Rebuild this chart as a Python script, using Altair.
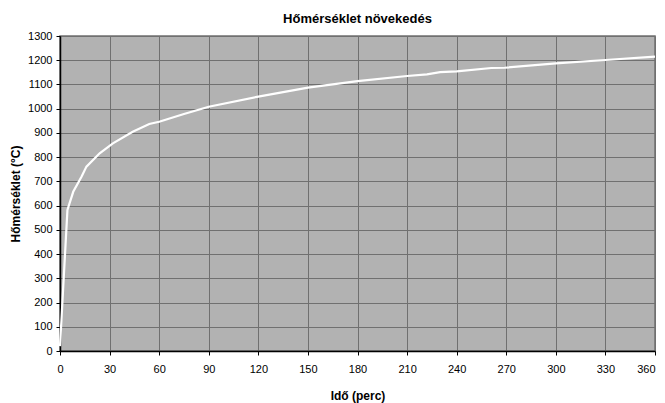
import altair as alt
import pandas as pd

# Values
time_min = [0, 4.5, 8, 13, 16, 24, 32, 44, 54, 60, 75, 90, 120, 150, 180,
            210, 222, 230, 240, 261, 269, 300, 330, 360]
temp_c = [20, 582, 657, 719, 761, 816, 857, 905, 937, 946, 978, 1008, 1050,
          1087, 1114, 1135, 1142, 1151, 1154, 1168, 1169, 1187, 1201, 1215]

x_ticks = list(range(0, 361, 30))
y_ticks = list(range(0, 1301, 100))

df = pd.DataFrame({"t": time_min, "T": temp_c})

font = "Liberation Sans"

chart = (
    alt.Chart(df)
    .mark_line(color="white", strokeWidth=2.2)
    .encode(
        x=alt.X(
            "t:Q",
            scale=alt.Scale(domain=[0, 360], nice=False, zero=False),
            axis=alt.Axis(
                title="Idő (perc)",
                values=x_ticks,
                format="d",
                grid=True,
                gridColor="#707070",
                gridWidth=1,
                domainColor="black",
                domainWidth=1.5,
                tickColor="black",
                tickSize=4,
                labelPadding=8,
                labelFont=font,
                labelFontSize=11,
                labelColor="black",
                labelFlush=False,
                labelAlign=alt.expr("datum.value == 360 ? 'right' : 'center'"),
                titleFont=font,
                titleFontSize=12,
                titleFontWeight="bold",
                titleColor="black",
                titlePadding=16,
            ),
        ),
        y=alt.Y(
            "T:Q",
            scale=alt.Scale(domain=[0, 1300], nice=False),
            axis=alt.Axis(
                title="Hőmérséklet (°C)",
                values=y_ticks,
                format="d",
                grid=True,
                gridColor="#707070",
                gridWidth=1,
                domainColor="black",
                domainWidth=1.5,
                tickColor="black",
                tickSize=4,
                labelPadding=4,
                labelFont=font,
                labelFontSize=11,
                labelColor="black",
                titleFont=font,
                titleFontSize=12,
                titleFontWeight="bold",
                titleColor="black",
                titlePadding=5,
            ),
        ),
    )
    .properties(
        width=595,
        height=315,
        title=alt.TitleParams(
            "Hőmérséklet növekedés",
            font=font,
            fontSize=13,
            fontWeight="bold",
            color="black",
            anchor="middle",
            offset=4,
        ),
        autosize=alt.AutoSizeParams(type="none"),
        padding={"left": 52, "top": 28, "right": 2, "bottom": 52},
    )
    .configure(background="white")
    .configure_view(fill="#b2b2b2", stroke="#707070", strokeWidth=1.5)
)

chart.save("out.html", embed_options={"renderer": "svg", "actions": False})
